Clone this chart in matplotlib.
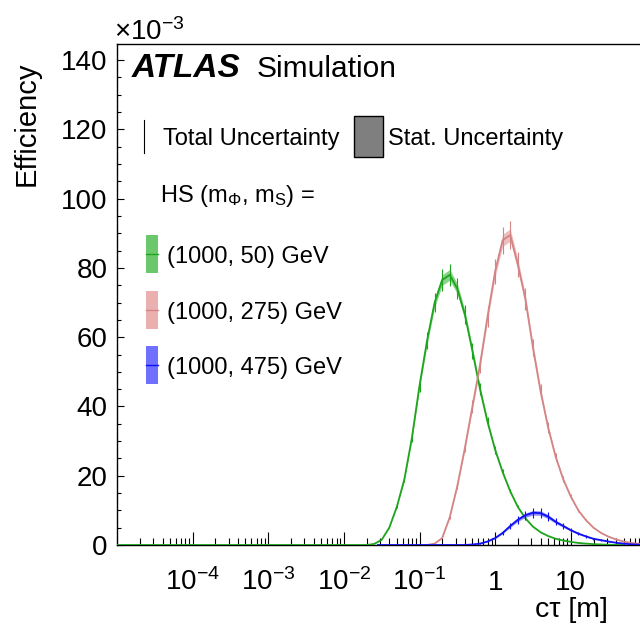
import numpy as np
import matplotlib
matplotlib.use("Agg")
import matplotlib.pyplot as plt
from matplotlib.patches import Rectangle
from matplotlib.lines import Line2D
from matplotlib.ticker import FixedLocator, LogLocator, NullFormatter, MultipleLocator

plt.rcParams['font.family'] = ['Liberation Sans', 'DejaVu Sans']
plt.rcParams['mathtext.fontset'] = 'custom'
plt.rcParams['mathtext.rm'] = 'Liberation Sans'
plt.rcParams['mathtext.it'] = 'Liberation Sans:italic'
plt.rcParams['mathtext.bf'] = 'Liberation Sans:bold'
plt.rcParams['mathtext.default'] = 'regular'

# ---------------- data (log10 of c*tau [m], efficiency x 1e-3) ----------------
green_log = [-5.0, -1.7, -1.6, -1.5, -1.4, -1.3, -1.2, -1.1, -1.0, -0.9, -0.8, -0.7,
             -0.6, -0.5, -0.4, -0.3, -0.2, -0.1, 0.0, 0.1, 0.2, 0.3, 0.4, 0.5, 0.6,
             0.7, 0.8, 0.9, 1.0, 1.1, 1.2, 1.3, 1.4, 1.5, 1.6, 1.7]
green_eff = [0.0, 0.0, 0.3, 1.5, 5.0, 11.0, 19.0, 31.0, 46.0, 59.0, 70.0, 76.5,
             78.0, 74.0, 66.5, 56.0, 45.0, 35.5, 27.5, 21.0, 15.5, 11.0, 7.7, 5.3, 3.7,
             2.6, 1.8, 1.3, 0.9, 0.6, 0.4, 0.25, 0.15, 0.08, 0.02, 0.0]

red_log = [-0.9, -0.8, -0.7, -0.6, -0.5, -0.4, -0.3, -0.2, -0.1, 0.0, 0.1, 0.2, 0.3,
           0.4, 0.5, 0.6, 0.7, 0.8, 0.9, 1.0, 1.1, 1.2, 1.3, 1.4, 1.5, 1.6, 1.7,
           1.8, 1.9, 2.0, 2.1, 2.2, 2.3]
red_eff = [0.0, 0.4, 2.0, 8.0, 17.0, 28.0, 40.0, 52.0, 66.0, 79.0, 88.0, 89.5, 81.0,
           71.0, 57.0, 44.5, 34.0, 25.5, 19.0, 14.0, 10.0, 7.2, 5.0, 3.5, 2.4, 1.6, 1.0,
           0.6, 0.35, 0.2, 0.1, 0.05, 0.0]

blue_log = [-1.55, -0.4, -0.3, -0.2, -0.1, 0.0, 0.1, 0.2, 0.3, 0.4, 0.5, 0.6, 0.7,
            0.8, 0.9, 1.0, 1.1, 1.2, 1.3, 1.4, 1.5, 1.6, 1.7, 1.8, 1.9, 2.0]
blue_eff = [0.0, 0.0, 0.15, 0.4, 1.0, 2.0, 3.5, 5.5, 7.3, 8.6, 9.3, 9.2, 8.2,
            6.7, 5.5, 4.3, 3.3, 2.5, 1.8, 1.4, 1.0, 0.65, 0.4, 0.2, 0.1, 0.0]

# relative uncertainties (total, stat) per sample
green_unc = (0.04, 0.02)
red_unc = (0.045, 0.02)
blue_unc = (0.15, 0.07)

labels = ['(1000, 50) GeV', '(1000, 275) GeV', '(1000, 475) GeV']
line_colors = ['#1ea51e', '#d48484', '#1010f0']
band_colors = ['#6cc86c', '#eab0b0', '#7070ff']

xticks = [1e-4, 1e-3, 1e-2, 1e-1, 1, 10]
xticklabels = ['$10^{-4}$', '$10^{-3}$', '$10^{-2}$', '$10^{-1}$', '1', '10']
yticks = [0, 20, 40, 60, 80, 100, 120, 140]

# ---------------- figure ----------------
W, H = 640, 631
fig = plt.figure(figsize=(W / 100, H / 100), dpi=100)


def fx(px):
    return px / W


def fy(py):
    return 1 - py / H


ax = fig.add_axes([fx(117), fy(545), fx(722) - fx(117), fy(43.5) - fy(545)])

series = [(green_log, green_eff, green_unc, 0),
          (red_log, red_eff, red_unc, 1),
          (blue_log, blue_eff, blue_unc, 2)]
for lg, ef, unc, i in series:
    x = 10 ** np.array(lg)
    y = np.array(ef)
    tot = y * unc[0]
    st = y * unc[1]
    ax.fill_between(x, y - st, y + st, color=band_colors[i], lw=0, alpha=0.8, zorder=2 + i)
    ax.errorbar(x, y, yerr=tot, fmt='-', color=line_colors[i], lw=1.3,
                elinewidth=0.8, capsize=0, zorder=3 + i)

ax.set_xscale('log')
ax.set_xlim(1e-5, 1e3)
ax.set_ylim(0, 144.8)

ax.xaxis.set_major_locator(FixedLocator(xticks))
ax.set_xticklabels(xticklabels)
ax.xaxis.set_minor_locator(LogLocator(base=10, subs=np.arange(2, 10), numticks=50))
ax.xaxis.set_minor_formatter(NullFormatter())
ax.set_yticks(yticks)
ax.yaxis.set_minor_locator(MultipleLocator(5))

ax.tick_params(axis='x', which='major', direction='in', length=9.4, width=0.8,
               labelsize=20, pad=32.4)
ax.tick_params(axis='x', which='minor', direction='in', length=4.7, width=0.8)
ax.tick_params(axis='y', which='major', direction='in', length=5, width=0.8,
               labelsize=20, pad=7)
ax.tick_params(axis='y', which='minor', direction='in', length=2.9, width=0.8)
for lab in ax.get_xticklabels():
    lab.set_va('baseline')

for s in ax.spines.values():
    s.set_linewidth(1.0)

# axis titles
fig.text(fx(27), fy(61), 'Efficiency', rotation=90, ha='center', va='top', fontsize=21)
fig.text(fx(608), fy(617), 'cτ [m]', ha='right', va='baseline', fontsize=20.5)
fig.text(fx(114), fy(40), r'$\times10^{-3}$', ha='left', va='baseline', fontsize=20)

# ATLAS label
fig.text(fx(132), fy(77), 'ATLAS', fontsize=24, fontweight='bold', style='italic',
         ha='left', va='baseline')
fig.text(fx(257), fy(77), 'Simulation', fontsize=21.5, ha='left', va='baseline')

# uncertainty legend
fig.add_artist(Line2D([fx(144), fx(144)], [fy(120), fy(153)], color='black', lw=0.8))
fig.text(fx(163), fy(145), 'Total Uncertainty', fontsize=17, ha='left', va='baseline')
fig.add_artist(Rectangle((fx(354), fy(157)), fx(383) - fx(354), fy(116) - fy(157),
                         facecolor='#7f7f7f', edgecolor='black', lw=1.0))
fig.text(fx(388), fy(145), 'Stat. Uncertainty', fontsize=17, ha='left', va='baseline')

# sample legend
fig.text(fx(160), fy(202), 'HS (m$_{Φ}$, m$_{S}$) =', fontsize=17, ha='left', va='baseline')
centers = [254, 310, 365]
for i, c in enumerate(centers):
    fig.add_artist(Rectangle((fx(146), fy(c + 19)), fx(158) - fx(146), fy(c - 19) - fy(c + 19),
                             facecolor=band_colors[i], edgecolor='none'))
    fig.add_artist(Line2D([fx(146), fx(158)], [fy(c), fy(c)], color=line_colors[i], lw=1.0))
    fig.text(fx(167), fy(c + 9), labels[i], fontsize=17, ha='left', va='baseline')

fig.savefig('out.png', dpi=100)
